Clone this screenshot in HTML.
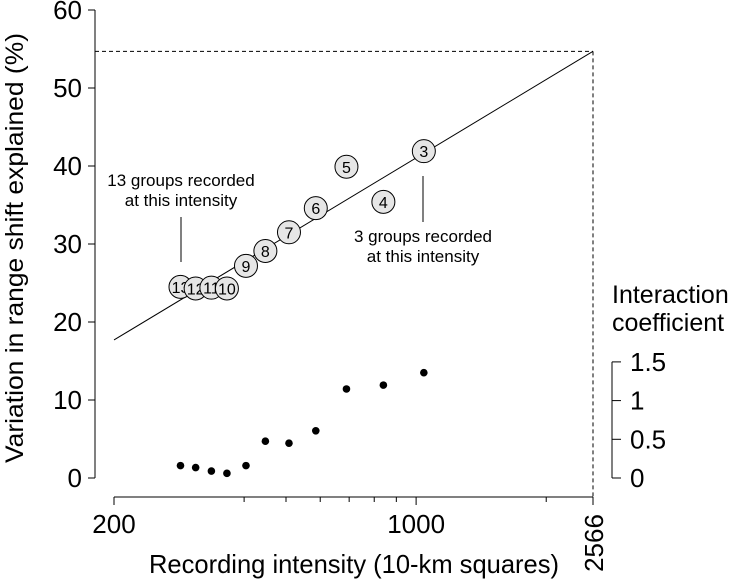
<!DOCTYPE html>
<html><head><meta charset="utf-8">
<style>
html,body{margin:0;padding:0;background:#fff;}
svg{display:block;font-family:"Liberation Sans",Arial,sans-serif;}
</style></head>
<body>
<svg id="chart" width="730" height="581" viewBox="0 0 730 581" xmlns="http://www.w3.org/2000/svg">
  <text x="23" y="248" font-size="25" text-anchor="middle" textLength="430" lengthAdjust="spacingAndGlyphs" transform="rotate(-90 23 248)">Variation in range shift explained (%)</text>
  <text x="354" y="573" font-size="26" text-anchor="middle" textLength="410" lengthAdjust="spacingAndGlyphs">Recording intensity (10-km squares)</text>
  <text x="612" y="303" font-size="25">Interaction</text>
  <text x="612" y="331" font-size="25">coefficient</text>
  <text x="181" y="186" font-size="17" text-anchor="middle">13 groups recorded</text>
  <text x="181" y="206" font-size="17" text-anchor="middle">at this intensity</text>
  <line x1="181" y1="217" x2="181" y2="262" stroke="#000" stroke-width="1"/>
  <text x="423" y="242" font-size="17" text-anchor="middle">3 groups recorded</text>
  <text x="423" y="262" font-size="17" text-anchor="middle">at this intensity</text>
  <line x1="423" y1="176" x2="423" y2="222" stroke="#000" stroke-width="1"/>
  <g id="plot"></g>
</svg>
<script>
const groups = ["13","12","11","10","9","8","7","6","5","4","3"];
const intensity = [285,309,336,365,404,448,508,586,690,840,1042];
const variation = [24.5,24.3,24.4,24.3,27.2,29.1,31.5,34.6,39.9,35.4,41.9];
const interaction = [0.16,0.135,0.09,0.06,0.16,0.475,0.45,0.61,1.15,1.2,1.36];
const leftTicks = [0,10,20,30,40,50,60];
const rightTicks = [0,0.5,1,1.5];
const rightTickLabels = ["0","0.5","1","1.5"];
const xMajor = [200,1000];
const xMinor = [400,500,600,700,800,900,2000];
const xMax = 2566;
const fitStart = 17.7, fitEnd = 54.7;

const NS = "http://www.w3.org/2000/svg";
const g = document.getElementById("plot");
const X = v => 114 + (Math.log10(v) - Math.log10(200)) * (593 - 114) / (Math.log10(xMax) - Math.log10(200));
const Y = v => 478 - v * 7.8;
const YR = v => 478 - v * 77.4;
function mk(tag, attrs, parent){
  const e = document.createElementNS(NS, tag);
  for (const k in attrs) e.setAttribute(k, attrs[k]);
  (parent || g).appendChild(e);
  return e;
}
let ax = mk("line",{x1:95,y1:Y(0),x2:95,y2:Y(60),stroke:"#000"});


leftTicks.forEach(t=>{
  const l = mk("line",{x1:88,y1:Y(t),x2:95,y2:Y(t),stroke:"#000"});
  
  
  const tx = mk("text",{x:82,y:Y(t)+9,"font-size":26,"text-anchor":"end"});
  tx.textContent = t;
  
  
});
let xa = mk("line",{x1:X(200),y1:497,x2:X(xMax),y2:497,stroke:"#000"});


xMajor.concat([xMax]).forEach(t=>{
  const l = mk("line",{x1:X(t),y1:497,x2:X(t),y2:505,stroke:"#000"});
  
  
});
xMinor.forEach(t=>{
  const l = mk("line",{x1:X(t),y1:497,x2:X(t),y2:502,stroke:"#000"});
  
  
});
xMajor.forEach(t=>{
  const tx = mk("text",{x:X(t),y:533,"font-size":26,"text-anchor":"middle"});
  tx.textContent = t;
  
  
});
let mx = mk("text",{x:0,y:0,"font-size":26,"text-anchor":"middle",transform:`translate(${X(xMax)+10},543) rotate(-90)`});
mx.textContent = xMax;


let dh = mk("line",{x1:95,y1:Y(fitEnd),x2:X(xMax),y2:Y(fitEnd),stroke:"#000","stroke-dasharray":"4,3","stroke-width":1});


let dv = mk("line",{x1:X(xMax),y1:Y(fitEnd),x2:X(xMax),y2:497,stroke:"#000","stroke-dasharray":"4,3","stroke-width":1});


let fl = mk("line",{x1:X(200),y1:Y(fitStart),x2:X(xMax),y2:Y(fitEnd),stroke:"#000","stroke-width":1});


let ra = mk("line",{x1:612,y1:YR(0),x2:612,y2:YR(1.5),stroke:"#000"});


rightTicks.forEach((t,i)=>{
  const l = mk("line",{x1:612,y1:YR(t),x2:621,y2:YR(t),stroke:"#000"});
  
  
  const tx = mk("text",{x:630,y:YR(t)+9,"font-size":26});
  tx.textContent = rightTickLabels[i];
  
  
});
groups.forEach((gr,i)=>{
  const c = mk("circle",{cx:X(intensity[i]),cy:Y(variation[i]),r:11.5,fill:"#e6e6e6",stroke:"#000","stroke-width":1});
  
  
  const t = mk("text",{x:X(intensity[i]),y:Y(variation[i])+6,"font-size":16,"text-anchor":"middle"});
  t.textContent = gr;
  
  
});
interaction.forEach((v,i)=>{
  const d = mk("circle",{cx:X(intensity[i]),cy:YR(v),r:3.8,fill:"#000"});
  
  
});
</script>
</body></html>
